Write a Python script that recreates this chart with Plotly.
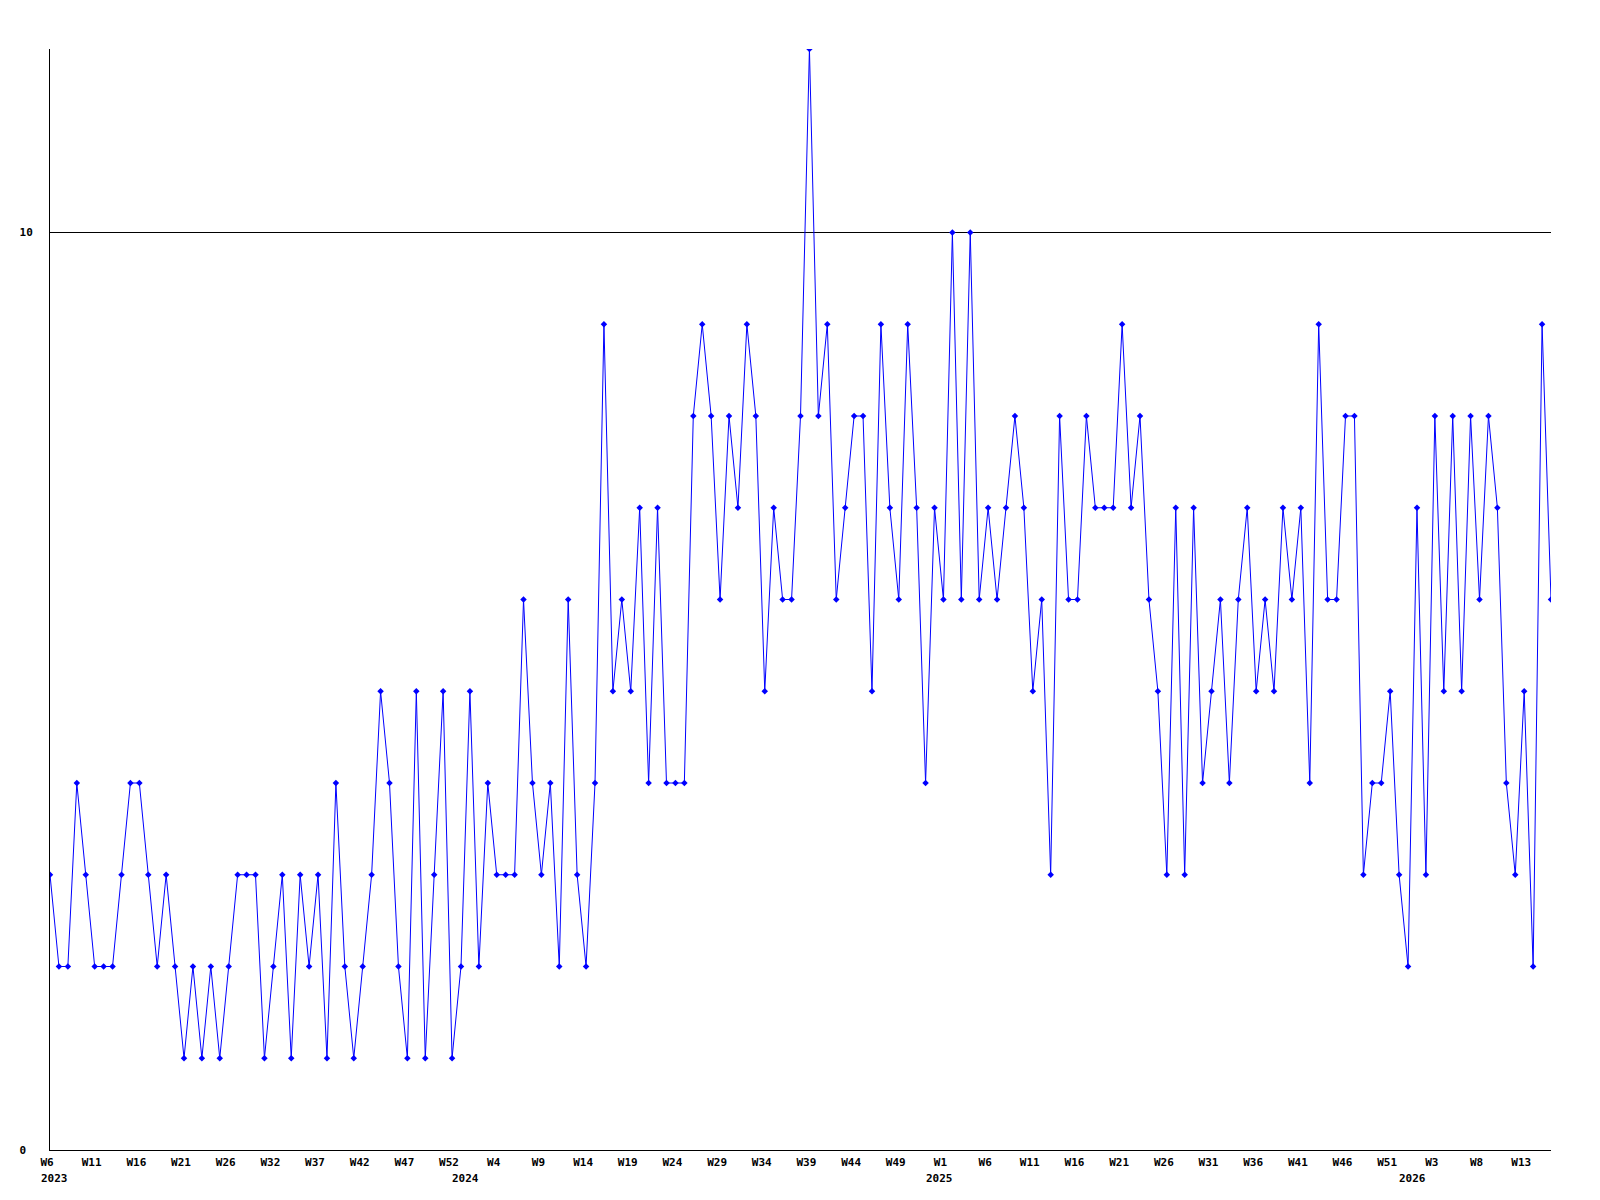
import plotly.graph_objects as go

# weekly values, W6 2023 onwards (169 weeks)
values = [
    3, 2, 2, 4, 3, 2, 2, 2, 3, 4, 4, 3, 2, 3, 2, 1, 2, 1, 2, 1,
    2, 3, 3, 3, 1, 2, 3, 1, 3, 2, 3, 1, 4, 2, 1, 2, 3, 5, 4, 2,
    1, 5, 1, 3, 5, 1, 2, 5, 2, 4, 3, 3, 3, 6, 4, 3, 4, 2, 6, 3,
    2, 4, 9, 5, 6, 5, 7, 4, 7, 4, 4, 4, 8, 9, 8, 6, 8, 7, 9, 8,
    5, 7, 6, 6, 8, 12, 8, 9, 6, 7, 8, 8, 5, 9, 7, 6, 9, 7, 4, 7,
    6, 10, 6, 10, 6, 7, 6, 7, 8, 7, 5, 6, 3, 8, 6, 6, 8, 7, 7, 7,
    9, 7, 8, 6, 5, 3, 7, 3, 7, 4, 5, 6, 4, 6, 7, 5, 6, 5, 7, 6,
    7, 4, 9, 6, 6, 8, 8, 3, 4, 4, 5, 3, 2, 7, 3, 8, 5, 8, 5, 8,
    6, 8, 7, 4, 3, 5, 2, 9, 6,
]
x_index = list(range(len(values)))

week_tick_index = list(range(0, 166, 5))
week_tick_labels = [
    "W6", "W11", "W16", "W21", "W26", "W32", "W37", "W42", "W47", "W52",
    "W4", "W9", "W14", "W19", "W24", "W29", "W34", "W39", "W44", "W49",
    "W1", "W6", "W11", "W16", "W21", "W26", "W31", "W36", "W41", "W46",
    "W51", "W3", "W8", "W13",
]
year_labels = ["2023", "2024", "2025", "2026"]
year_index = [0, 46, 99, 152]

y_tick_values = [0, 10]
y_tick_labels = ["0\u00a0", "10"]

FONT = dict(family="DejaVu Sans Mono", size=11, color="black")

fig = go.Figure()
fig.add_trace(go.Scatter(
    x=x_index, y=values, mode="lines+markers",
    line=dict(color="#0000ff", width=1),
    marker=dict(symbol="diamond", size=5, color="#0000ff"),
    showlegend=False, hoverinfo="skip",
))

for lab, idx in zip(year_labels, year_index):
    fig.add_annotation(
        x=idx, y=0, xref="x", yref="paper", text="<b>%s</b>" % lab,
        showarrow=False, xanchor="left", yanchor="middle",
        xshift=-11, yshift=-28, font=FONT,
    )

fig.update_layout(
    width=1584, height=1184,
    margin=dict(l=42, r=41, t=41, b=42),
    paper_bgcolor="white", plot_bgcolor="white",
    font=FONT,
    xaxis=dict(
        range=[0, len(values) - 1],
        showgrid=False, zeroline=False,
        showline=True, linecolor="black", linewidth=1,
        tickmode="array", tickvals=week_tick_index,
        ticktext=["<b>%s</b>" % t for t in week_tick_labels],
        ticks="", ticklabelshift=-3, ticklabelstandoff=2,
        tickfont=FONT,
    ),
    yaxis=dict(
        range=[0, 12],
        showgrid=True, gridcolor="black", gridwidth=1,
        zeroline=False,
        showline=True, linecolor="black", linewidth=1,
        tickmode="array", tickvals=y_tick_values,
        ticktext=["<b>%s</b>" % t for t in y_tick_labels],
        ticks="", ticklabelstandoff=14,
        tickfont=FONT,
    ),
)

fig.write_html("out.html")
